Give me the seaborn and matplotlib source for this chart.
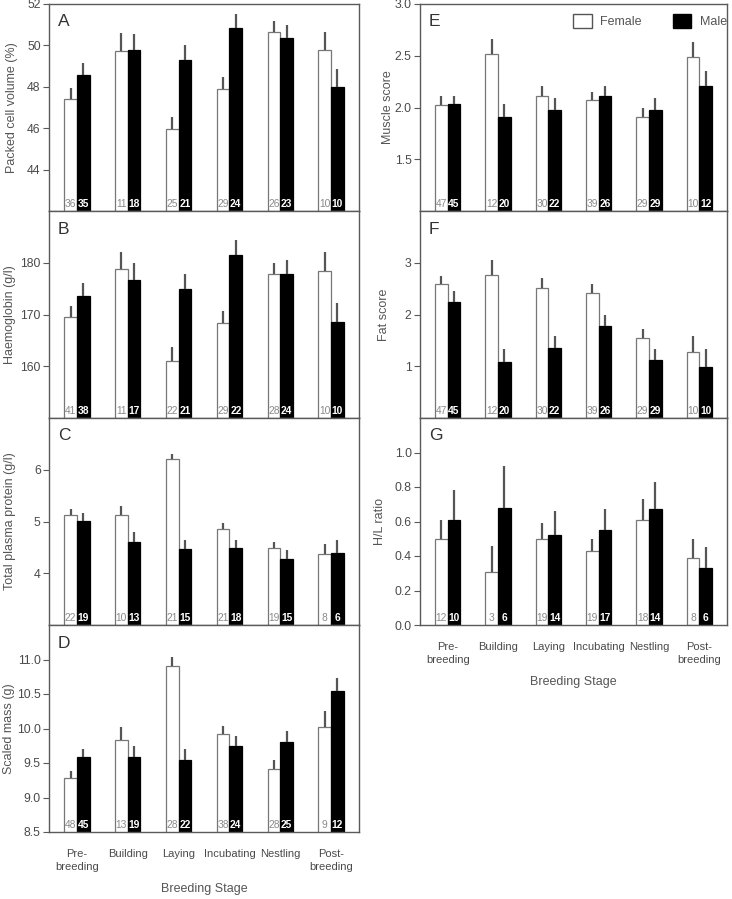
import matplotlib
matplotlib.use("Agg")
import matplotlib.pyplot as plt
import seaborn as sns
import pandas as pd
from matplotlib.patches import Patch
from matplotlib.ticker import FormatStrFormatter

# ---------------- data ----------------
stages = ["Pre-\nbreeding", "Building", "Laying", "Incubating", "Nestling", "Post-\nbreeding"]

pcv_f = [47.42, 49.74, 45.98, 47.87, 50.64, 49.79]
pcv_f_se = [0.53, 0.84, 0.58, 0.58, 0.55, 0.87]
pcv_m = [48.57, 49.77, 49.31, 50.82, 50.35, 48.00]
pcv_m_se = [0.58, 0.78, 0.69, 0.68, 0.65, 0.87]
n_pcv_f = [36, 11, 25, 29, 26, 10]
n_pcv_m = [35, 18, 21, 24, 23, 10]

hb_f = [169.5, 178.7, 161.1, 168.4, 177.8, 178.4]
hb_f_se = [2.2, 3.4, 2.7, 2.3, 2.2, 3.7]
hb_m = [173.6, 176.6, 175.0, 181.5, 177.8, 168.5]
hb_m_se = [2.4, 3.4, 2.8, 2.9, 2.7, 3.8]
n_hb_f = [41, 11, 22, 29, 28, 10]
n_hb_m = [38, 17, 21, 22, 24, 10]

tpp_f = [5.13, 5.13, 6.20, 4.85, 4.48, 4.37]
tpp_f_se = [0.12, 0.17, 0.11, 0.13, 0.13, 0.20]
tpp_m = [5.01, 4.60, 4.46, 4.48, 4.27, 4.39]
tpp_m_se = [0.15, 0.20, 0.18, 0.16, 0.18, 0.26]
n_tpp_f = [22, 10, 21, 21, 19, 8]
n_tpp_m = [19, 13, 15, 18, 15, 6]

mass_f = [9.28, 9.84, 10.91, 9.92, 9.41, 10.02]
mass_f_se = [0.11, 0.18, 0.13, 0.12, 0.13, 0.23]
mass_m = [9.58, 9.59, 9.55, 9.74, 9.80, 10.54]
mass_m_se = [0.12, 0.16, 0.15, 0.15, 0.16, 0.19]
n_mass_f = [48, 13, 28, 38, 28, 9]
n_mass_m = [45, 19, 22, 24, 25, 12]

muscle_f = [2.02, 2.52, 2.11, 2.07, 1.91, 2.49]
muscle_f_se = [0.09, 0.14, 0.10, 0.08, 0.09, 0.14]
muscle_m = [2.03, 1.91, 1.98, 2.11, 1.98, 2.21]
muscle_m_se = [0.08, 0.12, 0.11, 0.10, 0.11, 0.14]
n_muscle_f = [47, 12, 30, 39, 29, 10]
n_muscle_m = [45, 20, 22, 26, 29, 12]

fat_f = [2.58, 2.76, 2.51, 2.41, 1.54, 1.28]
fat_f_se = [0.17, 0.30, 0.20, 0.18, 0.18, 0.31]
fat_m = [2.25, 1.09, 1.35, 1.78, 1.13, 0.99]
fat_m_se = [0.20, 0.24, 0.24, 0.22, 0.20, 0.34]
n_fat_f = [47, 12, 30, 39, 29, 10]
n_fat_m = [45, 20, 22, 26, 29, 10]

hl_f = [0.50, 0.31, 0.50, 0.43, 0.61, 0.39]
hl_f_se = [0.11, 0.15, 0.09, 0.07, 0.12, 0.11]
hl_m = [0.61, 0.68, 0.52, 0.55, 0.67, 0.33]
hl_m_se = [0.17, 0.24, 0.14, 0.12, 0.16, 0.12]
n_hl_f = [12, 3, 19, 19, 18, 8]
n_hl_m = [10, 6, 14, 17, 14, 6]

# ---------------- style ----------------
sns.set_theme(style="ticks")
plt.rcParams['font.family'] = ['Liberation Sans', 'DejaVu Sans']
TXT = "#4a4a4a"
SPINE = "#5a5a5a"

W, H = 732, 899
fig = plt.figure(figsize=(W / 100, H / 100), dpi=100)


def make_ax(px_left, px_width, px_top, px_height):
    return fig.add_axes([px_left / W, 1 - (px_top + px_height) / H, px_width / W, px_height / H])


def panel(ax, f, fse, m, mse, nf, nm, ylim, ticks, fmt, ylabel, letter, bottom, lab_x):
    df = pd.DataFrame({
        "Stage": stages * 2,
        "Sex": ["Female"] * len(stages) + ["Male"] * len(stages),
        "value": list(f) + list(m),
    })
    sns.barplot(data=df, x="Stage", y="value", hue="Sex", order=stages,
                hue_order=["Female", "Male"],
                palette={"Female": "white", "Male": "black"},
                width=0.5, errorbar=None, legend=False, saturation=1,
                edgecolor="#777777", linewidth=0.9, ax=ax)
    cont_f, cont_m = ax.containers[0], ax.containers[1]
    for p in cont_m:
        p.set_edgecolor("black")
    for cont, vals, ses, ns, col, wt in [(cont_f, f, fse, nf, "#8a8a8a", "normal"),
                                          (cont_m, m, mse, nm, "white", "bold")]:
        xs = [p.get_x() + p.get_width() / 2 for p in cont]
        ax.vlines(xs, vals, [v + s for v, s in zip(vals, ses)], color="#555555", lw=1.6, zorder=1)
        for x, n in zip(xs, ns):
            ax.text(x, 0.008, str(n), transform=ax.get_xaxis_transform(),
                    ha="center", va="bottom", fontsize=7.4, color=col, fontweight=wt)
    ax.set_ylim(*ylim)
    ax.set_yticks(ticks)
    ax.yaxis.set_major_formatter(FormatStrFormatter(fmt))
    ax.set_xlim(-0.55, 5.55)
    ax.set_ylabel(ylabel, fontsize=9, color="#555555")
    ax.yaxis.set_label_coords(lab_x, 0.5)
    ax.tick_params(axis="y", direction="out", length=4, width=0.8, color=SPINE,
                   labelsize=8.8, labelcolor=TXT, pad=2)
    for s in ax.spines.values():
        s.set_visible(True)
        s.set_color(SPINE)
        s.set_linewidth(1.0)
    ax.text(9 / 310, 1 - 18 / 207, letter, transform=ax.transAxes, ha="left", va="center",
            fontsize=12.5, color="#333333")
    if bottom:
        ax.tick_params(axis="x", length=0, labelsize=8, labelcolor=TXT, pad=12)
        for t in ax.get_xticklabels():
            t.set_linespacing(1.45)
        ax.set_xlabel("Breeding Stage", fontsize=9, color="#555555", labelpad=8)
    else:
        ax.tick_params(axis="x", length=0, labelbottom=False)
        ax.set_xlabel("")


rows = [4, 211, 418, 625]
hgt = 207
LX, LW = 49, 310
RX, RW = 420, 307

axA = make_ax(LX, LW, rows[0], hgt)
panel(axA, pcv_f, pcv_f_se, pcv_m, pcv_m_se, n_pcv_f, n_pcv_m, (42, 52), [44, 46, 48, 50, 52], "%d",
      "Packed cell volume (%)", "A", False, -31 / LW)
axB = make_ax(LX, LW, rows[1], hgt)
panel(axB, hb_f, hb_f_se, hb_m, hb_m_se, n_hb_f, n_hb_m, (150, 190), [160, 170, 180], "%d",
      "Haemoglobin (g/l)", "B", False, -33 / LW)
axC = make_ax(LX, LW, rows[2], hgt)
panel(axC, tpp_f, tpp_f_se, tpp_m, tpp_m_se, n_tpp_f, n_tpp_m, (3, 7), [4, 5, 6], "%d",
      "Total plasma protein (g/l)", "C", False, -33 / LW)
axD = make_ax(LX, LW, rows[3], hgt)
panel(axD, mass_f, mass_f_se, mass_m, mass_m_se, n_mass_f, n_mass_m, (8.5, 11.5),
      [8.5, 9.0, 9.5, 10.0, 10.5, 11.0], "%.1f", "Scaled mass (g)", "D", True, -34 / LW)

axE = make_ax(RX, RW, rows[0], hgt)
panel(axE, muscle_f, muscle_f_se, muscle_m, muscle_m_se, n_muscle_f, n_muscle_m, (1.0, 3.0),
      [1.5, 2.0, 2.5, 3.0], "%.1f", "Muscle score", "E", False, -26 / RW)
axF = make_ax(RX, RW, rows[1], hgt)
panel(axF, fat_f, fat_f_se, fat_m, fat_m_se, n_fat_f, n_fat_m, (0, 4), [1, 2, 3], "%d",
      "Fat score", "F", False, -30 / RW)
axG = make_ax(RX, RW, rows[2], hgt)
panel(axG, hl_f, hl_f_se, hl_m, hl_m_se, n_hl_f, n_hl_m, (0, 1.2), [0.0, 0.2, 0.4, 0.6, 0.8, 1.0],
      "%.1f", "H/L ratio", "G", True, -34 / RW)

handles = [Patch(facecolor="white", edgecolor="#555555", linewidth=1.0, label="Female"),
           Patch(facecolor="black", edgecolor="black", label="Male")]
axE.legend(handles=handles, loc="upper right", bbox_to_anchor=(1.0, 1 - 10 / 207), ncol=2,
           frameon=False, fontsize=9, handlelength=1.45, handleheight=1.3, handletextpad=0.7,
           columnspacing=2.5, borderaxespad=0, borderpad=0, labelcolor="#555555")

fig.savefig("out.png", dpi=100)
